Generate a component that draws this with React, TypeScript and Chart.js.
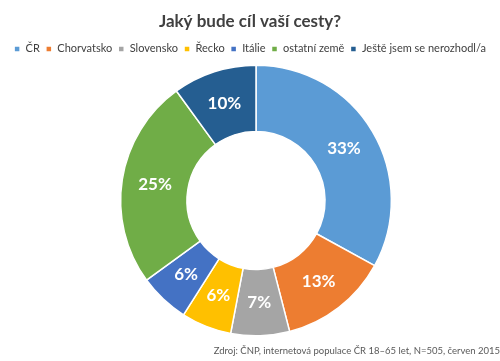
import React, { useEffect, useRef } from "react";
import { Chart, registerables } from "chart.js";

Chart.register(...registerables);

const categories = ["ČR", "Chorvatsko", "Slovensko", "Řecko", "Itálie", "ostatní země", "Ještě jsem se nerozhodl/a"];
const values = [33, 13, 7, 6, 6, 25, 10];
const colors = ["#5B9BD5", "#ED7D31", "#A5A5A5", "#FFC000", "#4472C4", "#70AD47", "#255E91"];
const titleText = "Jaký bude cíl vaší cesty?";
const sourceText = "Zdroj: ČNP, internetová populace ČR 18–65 let, N=505, červen 2015";

const FONT = "Lato, 'Open Sans', sans-serif";

const shiftPlugin = {
  id: "shiftArea",
  afterLayout(chart: any) {
    chart.chartArea.left += 12;
    chart.chartArea.width = chart.chartArea.right - chart.chartArea.left;
  },
};

const labelPlugin = {
  id: "sliceLabels",
  afterDatasetsDraw(chart: any) {
    const ctx = chart.ctx;
    const meta = chart.getDatasetMeta(0);
    ctx.save();
    ctx.font = `bold 17px ${FONT}`;
    ctx.fillStyle = "#ffffff";
    ctx.textAlign = "center";
    ctx.textBaseline = "middle";
    meta.data.forEach((arc: any, i: number) => {
      const p = arc.tooltipPosition();
      ctx.fillText(values[i] + "%", p.x, p.y);
    });
    ctx.restore();
  },
};

export default function App() {
  const ref = useRef<HTMLCanvasElement>(null);
  useEffect(() => {
    document.body.style.margin = "0";
    const chart = new Chart(ref.current!, {
      type: "doughnut",
      data: {
        labels: categories,
        datasets: [
          {
            data: values,
            backgroundColor: colors,
            borderColor: "#ffffff",
            borderWidth: 1.5,
          },
        ],
      },
      options: {
        animation: false,
        responsive: false,
        cutout: "51%",
        layout: { padding: { left: 0, right: 0, top: 0, bottom: 0 } },
        plugins: {
          tooltip: { enabled: false },
          title: {
            display: true,
            text: titleText,
            color: "#404040",
            font: { family: FONT, size: 17, weight: "bold" },
            padding: { top: 11, bottom: 6 },
          },
          legend: {
            position: "top",
            labels: {
              color: "#404040",
              font: { family: FONT, size: 11 },
              boxWidth: 6,
              boxHeight: 6,
              padding: 6,
            },
          },
          subtitle: {
            display: true,
            position: "bottom",
            align: "end",
            text: sourceText,
            color: "#595959",
            font: { family: FONT, size: 9.5 },
            padding: { top: 9, bottom: 4 },
          },
        },
      },
      plugins: [shiftPlugin, labelPlugin],
    });
    return () => chart.destroy();
  }, []);
  return <canvas ref={ref} width={500} height={361} style={{ display: "block" }} />;
}
